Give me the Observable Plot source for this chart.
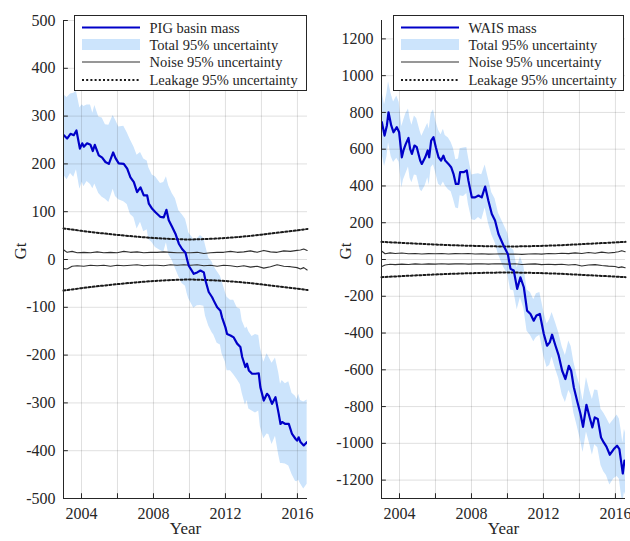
<!DOCTYPE html>
<html><head><meta charset="utf-8">
<script src="https://cdn.jsdelivr.net/npm/d3@7"></script>
<script src="https://cdn.jsdelivr.net/npm/@observablehq/plot@0.6"></script>
<style>
body{margin:0;background:#fff;}
#wrap{position:relative;width:630px;height:541px;font-family:"Liberation Serif","Times New Roman",serif;color:#262626;}
.panel{position:absolute;top:0;}
.panel text, .legend text{font-family:"Liberation Serif","Times New Roman",serif !important;}
.legend{position:absolute;top:15px;}
</style></head>
<body><div id="wrap"></div>
<script>
// ---------- data ----------
const xDomain = [2003, 2016.56];
const xTicks = [2004, 2006, 2008, 2010, 2012, 2014, 2016];

const pigYTicks = [-500, -400, -300, -200, -100, 0, 100, 200, 300, 400, 500];
const waisYTicks = [-1200, -1000, -800, -600, -400, -200, 0, 200, 400, 600, 800, 1000, 1200];

const pigLegend = ["PIG basin mass", "Total 95% uncertainty", "Noise 95% uncertainty", "Leakage 95% uncertainty"];
const waisLegend = ["WAIS mass", "Total 95% uncertainty", "Noise 95% uncertainty", "Leakage 95% uncertainty"];

const pigT = [2003.02,2003.20,2003.39,2003.57,2003.72,2003.91,2004.04,2004.13,2004.31,2004.50,2004.63,2004.74,2004.96,2005.15,2005.33,2005.52,2005.76,2005.89,2006.07,2006.35,2006.54,2006.72,2006.91,2007.09,2007.28,2007.46,2007.65,2007.74,2007.93,2008.11,2008.39,2008.57,2008.72,2008.85,2009.04,2009.22,2009.41,2009.59,2009.78,2009.87,2009.96,2010.24,2010.43,2010.61,2010.80,2010.89,2011.07,2011.26,2011.35,2011.54,2011.72,2011.81,2012.00,2012.09,2012.28,2012.46,2012.65,2012.83,2012.93,2013.11,2013.20,2013.30,2013.48,2013.67,2013.85,2013.94,2014.13,2014.31,2014.41,2014.59,2014.78,2014.96,2015.06,2015.15,2015.33,2015.52,2015.70,2015.89,2015.98,2016.07,2016.17,2016.35,2016.54];
const pigMass = [260,253,263,260,270,232,243,236,243,240,227,240,218,213,204,200,224,212,201,200,190,172,162,141,151,134,134,117,106,99,89,88,104,82,68,54,33,22,14,0,-13,-30,-27,-23,-27,-44,-68,-79,-86,-100,-107,-121,-142,-156,-159,-163,-176,-183,-204,-225,-218,-232,-239,-239,-238,-267,-295,-281,-285,-302,-288,-323,-344,-340,-344,-344,-365,-375,-379,-372,-382,-389,-382];
const pigUnc = [84,86,83,88,82,85,81,84,80,83,79,82,80,83,78,81,77,80,76,79,75,78,74,77,73,76,72,75,71,74,70,73,69,72,70,73,69,72,70,71,69,72,70,73,71,74,71,74,72,75,72,76,73,77,74,78,75,79,76,80,77,81,78,82,79,83,80,84,81,85,82,86,83,87,84,88,85,89,86,90,87,91,88];

const waisT = [2003.02,2003.17,2003.30,2003.39,2003.54,2003.67,2003.85,2003.98,2004.13,2004.22,2004.35,2004.50,2004.59,2004.69,2004.83,2004.96,2005.15,2005.24,2005.43,2005.57,2005.65,2005.76,2005.89,2006.02,2006.17,2006.31,2006.44,2006.54,2006.72,2006.87,2007.00,2007.13,2007.28,2007.37,2007.56,2007.74,2007.83,2008.02,2008.20,2008.39,2008.57,2008.76,2008.94,2009.13,2009.31,2009.50,2009.78,2010.02,2010.17,2010.35,2010.54,2010.72,2010.91,2011.09,2011.28,2011.46,2011.61,2011.80,2012.02,2012.20,2012.35,2012.48,2012.67,2012.85,2013.04,2013.22,2013.41,2013.54,2013.69,2013.87,2014.06,2014.20,2014.39,2014.57,2014.72,2014.85,2015.02,2015.20,2015.35,2015.50,2015.69,2015.91,2016.09,2016.22,2016.31,2016.41,2016.50,2016.56];
const waisMass = [747,674,729,801,729,692,720,692,556,593,629,661,602,574,620,611,538,520,556,593,556,647,665,611,556,538,565,538,520,502,466,411,411,475,475,484,429,338,338,348,338,397,320,248,212,139,76,30,-51,-60,-160,-97,-151,-278,-296,-333,-305,-296,-405,-469,-451,-409,-469,-523,-605,-650,-578,-605,-696,-768,-840,-910,-790,-859,-913,-859,-868,-968,-995,-1018,-1062,-1031,-1013,-1031,-1094,-1164,-1094,-1113];
const waisUnc = [170,168,172,166,170,165,169,163,167,160,164,158,162,156,160,154,158,151,155,148,152,146,150,143,147,140,144,137,141,134,138,131,135,128,132,125,129,122,126,119,123,117,121,115,119,113,117,111,115,110,114,111,116,112,117,114,119,116,121,118,124,121,127,124,131,128,135,132,139,136,143,140,148,145,152,149,156,153,160,157,164,161,167,164,170,166,171,168];

const noiseT = [2003.02,2003.20,2003.48,2003.76,2004.13,2004.50,2004.87,2005.24,2005.61,2005.98,2006.35,2006.72,2007.09,2007.46,2007.83,2008.20,2008.57,2008.94,2009.31,2009.69,2010.06,2010.43,2010.80,2011.17,2011.54,2011.90,2012.28,2012.65,2013.02,2013.39,2013.76,2014.13,2014.50,2014.87,2015.24,2015.61,2015.98,2016.17,2016.35,2016.54];
const pigNoiseUp = [20,15,17,14,15,14,16,14,15,14,17,15,16,14,15,15,16,15,14,14,14,15,12.6,14,15,15,17,15,16,18,15,19,16,15,18,17,19,20,22,19];
const pigNoiseLo = [-19,-20,-14,-13,-14,-12,-13,-12,-14,-12,-13,-12,-11,-13,-12,-12,-13,-11,-12,-11,-12,-11,-13,-12,-14,-12,-13,-15,-13,-16,-14,-18,-15,-11,-14,-15,-17,-20,-17,-22];
const waisNoiseUp = [45,31,36,33,35,31,33,30,32,31,33,30,32,31,33,30,31,29,30,31,29,30,28,30,31,29,33,31,34,32,36,33,38,34,40,35,39,42,48,42];
const waisNoiseLo = [-38,-30,-26,-28,-25,-27,-24,-26,-24,-25,-23,-25,-24,-23,-25,-24,-23,-25,-23,-24,-25,-23,-27,-25,-24,-28,-26,-28,-26,-30,-27,-35,-30,-28,-33,-36,-38,-44,-40,-45];

const leakT = [2003,2004,2005,2006,2007,2008,2009,2010,2011,2012,2013,2014,2015,2016,2016.56];
const pigLeak = [65,60,55.5,51.5,48,45,43,42,43,45,48,52,56.5,61,64];
const waisLeak = [96,91,86,81.5,77.5,74.5,72,71,72,74.5,78,83,88,93,96];

// ---------- style ----------
const serif = "'Liberation Serif', 'Times New Roman', serif";
const massColor = "#0000c8";
const bandColor = "#cce4fc";
const axisColor = "#262626";
const noiseColor = "#303030";
const leakColor = "#1a1a1a";
const leakDash = "2 2.2";

function panel(c) {
  const rows = c.t.map((t, i) => ({t, m: c.mass[i], lo: c.mass[i] - c.unc[i], hi: c.mass[i] + c.unc[i]}));
  const noise = noiseT.map((t, i) => ({t, up: c.noiseUp[i], lo: c.noiseLo[i]}));
  const leak = leakT.map((t, i) => ({t, up: c.leak[i], lo: -c.leak[i]}));
  const y0 = c.yDomain[0];
  return Plot.plot({
    width: 315, height: 541,
    marginTop: 20, marginBottom: 43, marginLeft: c.ml, marginRight: c.mr,
    style: {fontFamily: serif, fontSize: "16px", color: axisColor, background: "transparent", overflow: "visible"},
    x: {domain: xDomain},
    y: {domain: c.yDomain},
    marks: [
      Plot.areaY(rows, {x: "t", y1: "lo", y2: "hi", fill: bandColor, clip: true}),
      Plot.gridX(xTicks, {stroke: axisColor, strokeOpacity: 0.14}),
      Plot.gridY(c.yTicks, {stroke: axisColor, strokeOpacity: 0.14}),
      Plot.lineY(leak, {x: "t", y: "up", curve: "natural", stroke: leakColor, strokeWidth: 2, strokeDasharray: leakDash}),
      Plot.lineY(leak, {x: "t", y: "lo", curve: "natural", stroke: leakColor, strokeWidth: 2, strokeDasharray: leakDash}),
      Plot.lineY(noise, {x: "t", y: "up", stroke: noiseColor, strokeWidth: 1.1}),
      Plot.lineY(noise, {x: "t", y: "lo", stroke: noiseColor, strokeWidth: 1.1}),
      Plot.lineY(rows, {x: "t", y: "m", stroke: massColor, strokeWidth: 2.2, clip: true}),
      Plot.ruleX([xDomain[0]], {stroke: axisColor}),
      Plot.ruleY([y0], {stroke: axisColor}),
      Plot.ruleX(xTicks, {x: d => d, y1: y0, y2: y0 + c.tickY, stroke: axisColor}),
      Plot.ruleY(c.yTicks, {y: d => d, x1: xDomain[0], x2: xDomain[0] + 0.27, stroke: axisColor}),
      Plot.axisX(xTicks, {tickSize: 0, tickPadding: 9, tickFormat: d => d % 4 === 0 ? String(d) : "", label: null, fontSize: 16, fontFamily: serif}),
      Plot.axisY(c.yTicks, {tickSize: 0, tickPadding: 8, tickFormat: d => String(d), label: null, fontSize: 16, fontFamily: serif}),
      Plot.text(["Gt"], {text: d => d, frameAnchor: "left", dx: c.gtDx, rotate: -90, fontSize: 17, fontFamily: serif}),
      Plot.text(["Year"], {text: d => d, frameAnchor: "bottom", dy: 35, fontSize: 17, fontFamily: serif})
    ]
  });
}

function legend(labels, left, width) {
  const ns = "http://www.w3.org/2000/svg";
  const svg = document.createElementNS(ns, "svg");
  svg.setAttribute("width", width);
  svg.setAttribute("height", 76);
  svg.setAttribute("class", "legend");
  svg.style.left = left + "px";
  const rowsY = [12.5, 29.5, 47, 65];
  const sx = 8, sw = 58, tx = 75.5;
  svg.innerHTML =
    `<rect x="0.5" y="0.5" width="${width - 1}" height="75" fill="#fff" stroke="${axisColor}" stroke-width="1"/>` +
    `<line x1="${sx}" x2="${sx + sw}" y1="${rowsY[0]}" y2="${rowsY[0]}" stroke="${massColor}" stroke-width="2.2"/>` +
    `<rect x="${sx}" y="${rowsY[1] - 5.5}" width="${sw}" height="11" fill="${bandColor}"/>` +
    `<line x1="${sx}" x2="${sx + sw}" y1="${rowsY[2]}" y2="${rowsY[2]}" stroke="${noiseColor}" stroke-width="1.1"/>` +
    `<line x1="${sx}" x2="${sx + sw}" y1="${rowsY[3]}" y2="${rowsY[3]}" stroke="${leakColor}" stroke-width="2" stroke-dasharray="${leakDash}"/>` +
    labels.map((l, i) => `<text x="${tx}" y="${rowsY[i]}" dy="0.35em" font-size="14.5" fill="${axisColor}">${l}</text>`).join("");
  return svg;
}

const wrap = document.getElementById("wrap");
const left = panel({t: pigT, mass: pigMass, unc: pigUnc, noiseUp: pigNoiseUp, noiseLo: pigNoiseLo, leak: pigLeak,
  yDomain: [-500, 500], yTicks: pigYTicks, ml: 63, mr: 8, tickY: 10, gtDx: -43});
left.classList.add("panel"); left.style.left = "0px";
const right = panel({t: waisT, mass: waisMass, unc: waisUnc, noiseUp: waisNoiseUp, noiseLo: waisNoiseLo, leak: waisLeak,
  yDomain: [-1300, 1300], yTicks: waisYTicks, ml: 66, mr: 5, tickY: 26, gtDx: -36});
right.classList.add("panel"); right.style.left = "315px";
wrap.appendChild(left);
wrap.appendChild(right);
wrap.appendChild(legend(pigLegend, 74, 233));
wrap.appendChild(legend(waisLegend, 393, 231));
</script>
</body></html>
